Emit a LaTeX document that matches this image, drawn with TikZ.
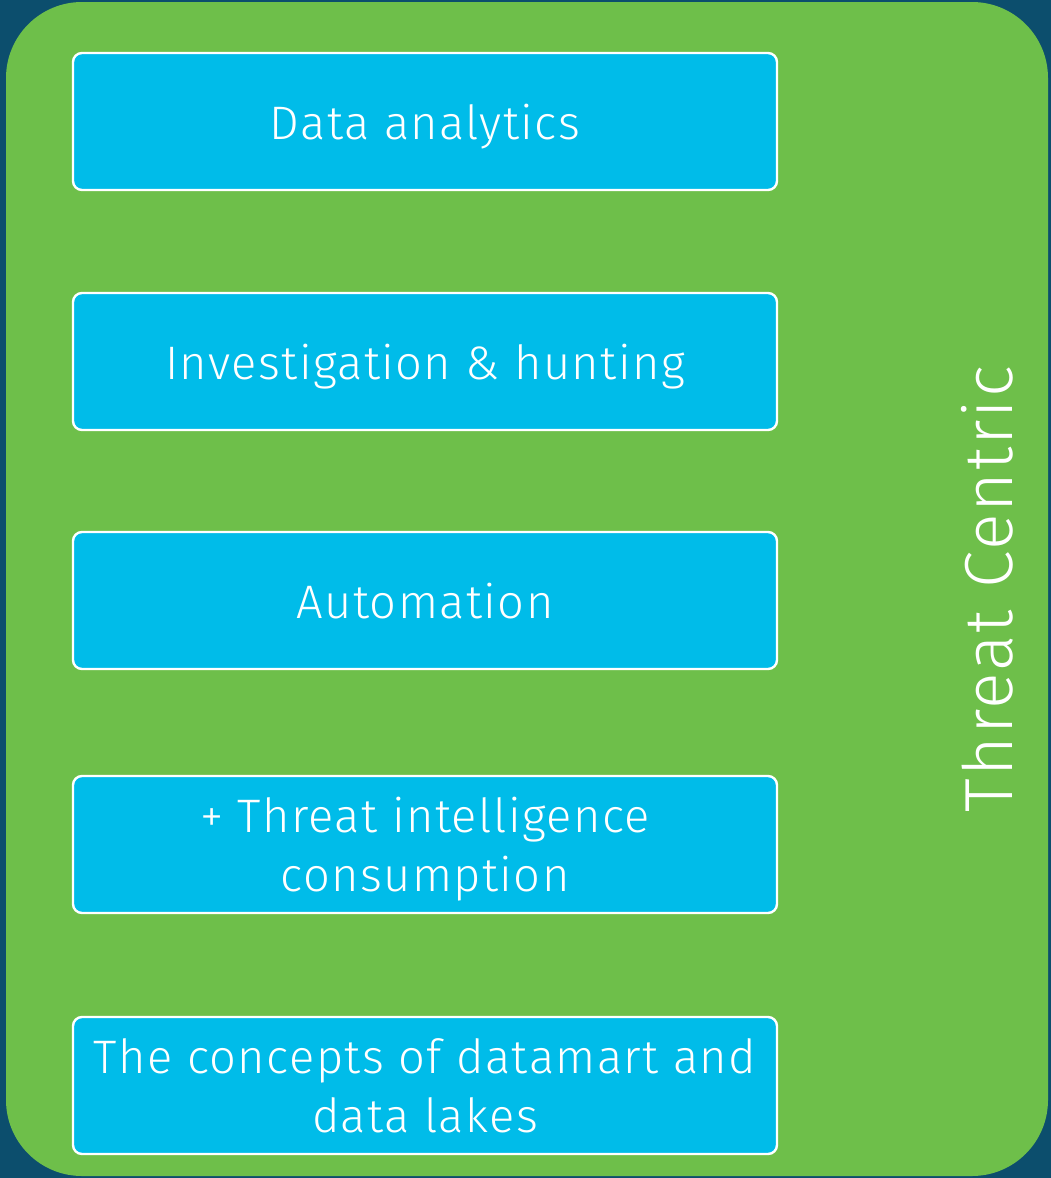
\documentclass[tikz,border=0pt]{standalone}
\usepackage{fontspec}
\setmainfont{Fira Sans}[UprightFont=* Light, LetterSpace=3]
\definecolor{navy}{HTML}{0C4E6D}
\definecolor{leaf}{HTML}{6EBF4A}
\definecolor{sky}{HTML}{00BCE9}
\begin{document}
\begin{tikzpicture}[x=1pt,y=-1pt,
  panel/.style={fill=leaf, rounded corners=76pt},
  itembox/.style={draw=white, line width=2.4pt, fill=sky, rounded corners=9pt,
    minimum width=704pt, minimum height=137pt, inner sep=0pt, text depth=0pt,
    text=white, align=center, font=\fontsize{47}{59}\selectfont},
  sidelabel/.style={text=white, rotate=90, font=\fontsize{68}{80}\selectfont}]
  % dark backdrop and green panel
  \fill[navy] (0,0) rectangle (1051,1178);
  \fill[panel] (6,2) rectangle (1048,1176);
  % stacked capability boxes
  \node[itembox] (da)   at (425,121.5)  {Data analytics};
  \node[itembox] (ih)   at (425,361.5)  {Investigation \& hunting};
  \node[itembox] (au)   at (425,600.5)  {Automation};
  \node[itembox] (ti)   at (425,844.5)  {+ Threat intelligence\\consumption};
  \node[itembox] (dl)   at (425,1085.5) {The concepts of datamart and\\data lakes};
  % vertical label
  \node[sidelabel] (tc) at (987,589) {Threat Centric};
\end{tikzpicture}
\end{document}
